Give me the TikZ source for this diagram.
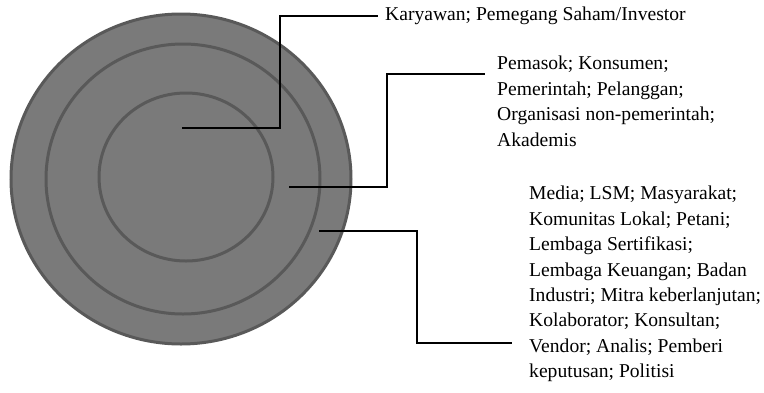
\documentclass[tikz,border=0pt]{standalone}
\usepackage{fontspec}
\setmainfont{Liberation Serif}
\usetikzlibrary{positioning, calc}
\definecolor{ringfill}{HTML}{7A7A7A}
\definecolor{ringedge}{HTML}{595959}
\tikzset{
    ringline/.style={draw=ringedge, line width=3pt, fill=ringfill},
    leadline/.style={draw=black, line width=1.4pt},
    grouptext/.style={inner sep=0pt, align=left, font=\fontsize{19.6}{25.4}\selectfont}
}

\begin{document}
\begin{tikzpicture}[x=1pt, y=-1pt]
            \useasboundingbox (0,0) rectangle (764,392);

            \draw[ringline] (181,179) ellipse [x radius=170, y radius=165];
            \draw[ringline] (183,179) ellipse [x radius=137, y radius=135];
            \draw[ringline] (186,177) ellipse [x radius=87, y radius=84];

            \coordinate (core) at (182,128);
            \coordinate (middle) at (289,187);
            \coordinate (outer) at (319,231);

            \node[grouptext, anchor=west] (kary) at (385,16) {Karyawan; Pemegang Saham/Investor};
            \node[grouptext, anchor=north west] (pemasok) at (497,56) {Pemasok; Konsumen;\\Pemerintah; Pelanggan;\\Organisasi non-pemerintah;\\Akademis};
            \node[grouptext, anchor=north west] (media) at (529,186) {Media; LSM; Masyarakat;\\Komunitas Lokal; Petani;\\Lembaga Sertifikasi;\\Lembaga Keuangan; Badan\\Industri; Mitra keberlanjutan;\\Kolaborator; Konsultan;\\Vendor; Analis; Pemberi\\keputusan; Politisi};

            \draw[leadline] (core) -- ++(98,0) |- ([xshift=-7pt]kary.west);
            \draw[leadline] (middle) -- ++(98,0) |- ([shift={(-12pt,-18pt)}]pemasok.north west);
            \draw[leadline] (outer) -- ++(98,0) |- ([shift={(-17pt,-157pt)}]media.north west);
        \end{tikzpicture}
\end{document}
